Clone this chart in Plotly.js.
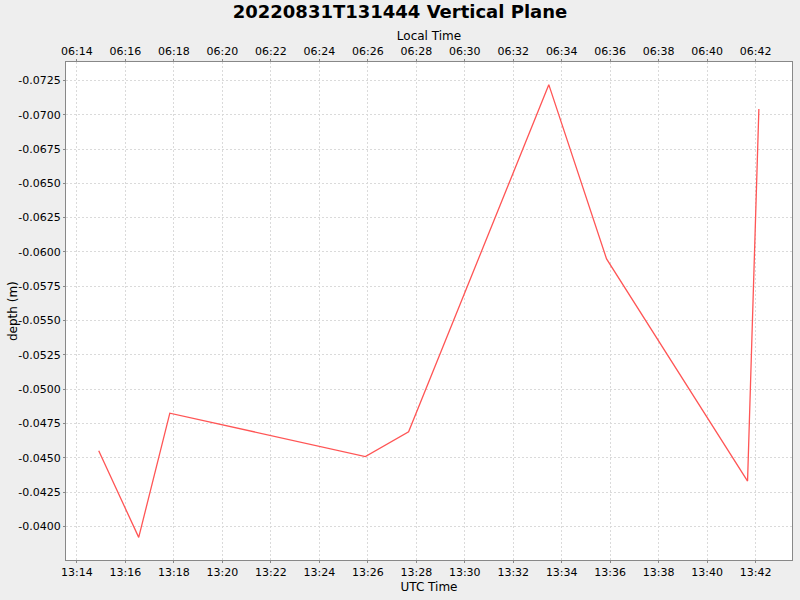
<!DOCTYPE html>
<html>
<head>
<meta charset="utf-8">
<script src="https://cdn.plot.ly/plotly-3.0.1.min.js"></script>
<style>
  html, body { margin: 0; padding: 0; background: #eeeeee; }
  #chart { width: 800px; height: 600px; }
</style>
</head>
<body>
<div id="chart"></div>
<script>
// UTC sample times and depth readings
const utcTimes = [
  "2022-08-31 13:14:54",
  "2022-08-31 13:16:33",
  "2022-08-31 13:17:50",
  "2022-08-31 13:25:54",
  "2022-08-31 13:27:41",
  "2022-08-31 13:33:28",
  "2022-08-31 13:35:51",
  "2022-08-31 13:41:40",
  "2022-08-31 13:42:08",
];
const depths = [-0.04551, -0.0392, -0.04825, -0.04509, -0.04689, -0.07219, -0.05949, -0.0433, -0.07042];

const depthTicks = [-0.0725, -0.07, -0.0675, -0.065, -0.0625, -0.06, -0.0575, -0.055, -0.0525, -0.05, -0.0475, -0.045, -0.0425, -0.04];
const depthTickText = depthTicks.map(v => v.toFixed(4));

const LOCAL_OFFSET_H = -7;
const utcRange = ["2022-08-31 13:13:33", "2022-08-31 13:43:30"];
const depthRange = [-0.03755, -0.07384];

function shiftHours(s, h) {
  const d = new Date(s.replace(" ", "T") + "Z");
  d.setUTCHours(d.getUTCHours() + h);
  return d.toISOString().replace("T", " ").slice(0, 19);
}

const FONT = "DejaVu Sans, sans-serif";
const AXIS = "#888888";
const GRID = "#dadada";
const MARGIN = { l: 66, r: 8, t: 62, b: 40 };

const trace = {
  type: "scatter",
  mode: "lines",
  x: utcTimes,
  y: depths,
  line: { color: "#ff5555", width: 1.3 },
  hoverinfo: "skip",
  showlegend: false,
};

// invisible copy on the local-time axis so it always gets drawn
const ghost = {
  type: "scatter",
  mode: "lines",
  x: utcTimes.map(s => shiftHours(s, LOCAL_OFFSET_H)),
  y: depths,
  xaxis: "x2",
  yaxis: "y",
  line: { color: "rgba(0,0,0,0)", width: 0 },
  hoverinfo: "skip",
  showlegend: false,
};

const plotWidth = 800 - MARGIN.l - MARGIN.r;

const layout = {
  width: 800,
  height: 600,
  paper_bgcolor: "#eeeeee",
  plot_bgcolor: "#ffffff",
  font: { family: FONT, color: "#000000", size: 11 },
  margin: MARGIN,
  showlegend: false,
  title: {
    text: "<b>20220831T131444 Vertical Plane</b>",
    font: { family: FONT, size: 18, color: "#000000" },
    x: 0.5,
    xanchor: "center",
    y: 0.98,
    yanchor: "middle",
  },
  xaxis: {
    type: "date",
    range: utcRange,
    tick0: "2022-08-31 13:14:00",
    dtick: 120000,
    tickformat: "%H:%M",
    ticks: "outside",
    ticklen: 2,
    tickcolor: AXIS,
    showline: true,
    linecolor: AXIS,
    linewidth: 1,
    showgrid: true,
    gridcolor: GRID,
    griddash: "2px,2px",
    zeroline: false,
    tickfont: { family: FONT, size: 11 },
    title: { text: "UTC Time", font: { family: FONT, size: 12 }, standoff: 4 },
  },
  xaxis2: {
    type: "date",
    overlaying: "x",
    side: "top",
    anchor: "y",
    range: utcRange.map(s => shiftHours(s, LOCAL_OFFSET_H)),
    tick0: "2022-08-31 06:14:00",
    dtick: 120000,
    tickformat: "%H:%M",
    ticks: "outside",
    ticklen: 2,
    tickcolor: AXIS,
    showline: true,
    linecolor: AXIS,
    linewidth: 1,
    showgrid: false,
    zeroline: false,
    tickfont: { family: FONT, size: 11 },
    title: { text: "Local Time", font: { family: FONT, size: 12 }, standoff: 1 },
  },
  yaxis: {
    range: depthRange,
    tickvals: depthTicks,
    ticktext: depthTickText,
    ticks: "outside",
    ticklen: 2,
    tickcolor: AXIS,
    showline: true,
    mirror: true,
    linecolor: AXIS,
    linewidth: 1,
    showgrid: true,
    gridcolor: GRID,
    griddash: "2px,2px",
    zeroline: false,
    tickfont: { family: FONT, size: 11 },
  },
  annotations: [
    {
      text: "depth (m)",
      font: { family: FONT, size: 12, color: "#000000" },
      textangle: -90,
      xref: "paper",
      yref: "paper",
      x: -(MARGIN.l - 13) / plotWidth,
      y: 0.5,
      xanchor: "center",
      yanchor: "middle",
      showarrow: false,
    },
  ],
};

Plotly.newPlot("chart", [trace, ghost], layout, { displayModeBar: false, staticPlot: true });
</script>
</body>
</html>
